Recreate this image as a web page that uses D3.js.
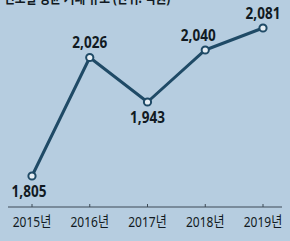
<!DOCTYPE html>
<html>
<head>
<meta charset="utf-8">
<script src="https://cdn.jsdelivr.net/npm/d3@7/dist/d3.min.js"></script>
<style>
body { margin: 0; background: #b6cde0; }
svg { display: block; }
text { font-family: "Noto Sans", "Noto Sans CJK KR", sans-serif; fill: #111a22; }
</style>
</head>
<body>
<div id="chart"></div>
<script>
// data
var years = ["2015년", "2016년", "2017년", "2018년", "2019년"];
var values = [1805, 2026, 1943, 2040, 2081];
var labelPos = ["below", "above", "below", "above", "above"];

var w = 290, h = 241;

var svg = d3.select("#chart").append("svg")
  .attr("width", w)
  .attr("height", h);

svg.append("rect").attr("width", w).attr("height", h).attr("fill", "#b6cde0");

// title (cut off at top, like the source)
svg.append("text")
  .attr("transform", "translate(4,3) scale(0.78,1)")
  .attr("font-size", 15)
  .attr("font-weight", "bold")
  .text("연도별 평균 거래 규모 (단위: 억원)");

var x = d3.scalePoint()
  .domain(years)
  .range([32, 263]);

var y = d3.scaleLinear()
  .domain([1805, 2081])
  .range([176, 28]);

// axis
var axis = svg.append("g").attr("transform", "translate(0,207)");
axis.append("line")
  .attr("x1", 8).attr("x2", 282)
  .attr("stroke", "#3c4a56").attr("stroke-width", 1.2);
axis.selectAll(".tick")
  .data(years)
  .enter().append("line")
  .attr("x1", function(d) { return x(d); })
  .attr("x2", function(d) { return x(d); })
  .attr("y1", 0).attr("y2", -3)
  .attr("stroke", "#3c4a56");
axis.selectAll(".lbl")
  .data(years)
  .enter().append("text")
  .attr("transform", function(d) { return "translate(" + x(d) + ",19.5) scale(0.8,1)"; })
  .attr("text-anchor", "middle")
  .attr("font-size", 15)
  .text(function(d) { return d; });

// line
var line = d3.line()
  .x(function(d, i) { return x(years[i]); })
  .y(function(d) { return y(d); });

svg.append("path")
  .datum(values)
  .attr("d", line)
  .attr("fill", "none")
  .attr("stroke", "#1f4a66")
  .attr("stroke-width", 3)
  .attr("stroke-linejoin", "round");

svg.selectAll(".pt")
  .data(values)
  .enter().append("circle")
  .attr("cx", function(d, i) { return x(years[i]); })
  .attr("cy", function(d) { return y(d); })
  .attr("r", 3.6)
  .attr("fill", "#e6eef4")
  .attr("stroke", "#1f4a66")
  .attr("stroke-width", 2);

var fmt = d3.format(",");
var dx = [-3, 0, 0, -7, 0];
svg.selectAll(".val")
  .data(values)
  .enter().append("text")
  .attr("transform", function(d, i) {
    var ty = y(d) + (labelPos[i] == "above" ? -9 : 21);
    return "translate(" + (x(years[i]) + dx[i]) + "," + ty + ") scale(0.82,1)";
  })
  .attr("text-anchor", "middle")
  .attr("font-size", 16.5)
  .attr("font-weight", "bold")
  .text(function(d) { return fmt(d); });
</script>
</body>
</html>
